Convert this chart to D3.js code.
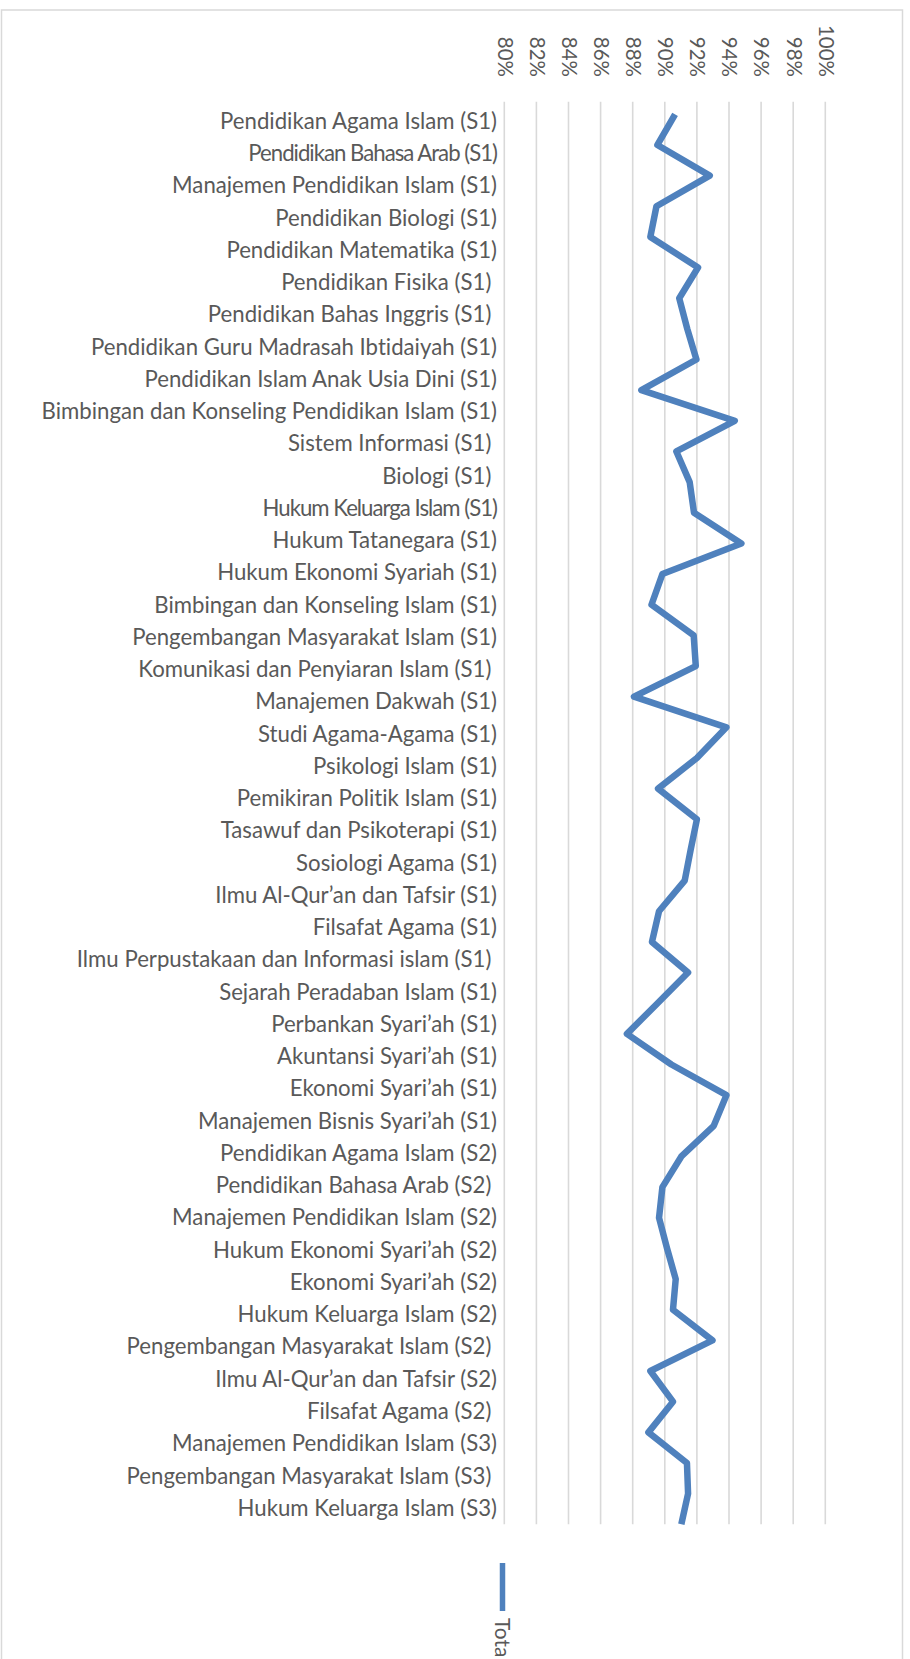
<!DOCTYPE html>
<meta charset="utf-8">
<script src="https://d3js.org/d3.v7.min.js"></script>
<style>
  body { margin: 0; background: #fff; }
  text { font-family: Lato, "Open Sans", sans-serif; fill: #595959; font-variant-ligatures: none; }
</style>
<div id="chart"></div>
<script>

// program names shown along the side (trailing spaces kept as in the source)
var programs = [
  "Pendidikan Agama Islam (S1)",
  "Pendidikan Bahasa Arab (S1)",
  "Manajemen Pendidikan Islam (S1)",
  "Pendidikan Biologi (S1)",
  "Pendidikan Matematika (S1)",
  "Pendidikan Fisika (S1) ",
  "Pendidikan Bahas Inggris (S1) ",
  "Pendidikan Guru Madrasah Ibtidaiyah (S1)",
  "Pendidikan Islam Anak Usia Dini (S1)",
  "Bimbingan dan Konseling Pendidikan Islam (S1)",
  "Sistem Informasi (S1) ",
  "Biologi (S1) ",
  "Hukum Keluarga Islam (S1)",
  "Hukum Tatanegara (S1)",
  "Hukum Ekonomi Syariah (S1)",
  "Bimbingan dan Konseling Islam (S1)",
  "Pengembangan Masyarakat Islam (S1)",
  "Komunikasi dan Penyiaran Islam (S1) ",
  "Manajemen Dakwah (S1)",
  "Studi Agama-Agama (S1)",
  "Psikologi Islam (S1)",
  "Pemikiran Politik Islam (S1)",
  "Tasawuf dan Psikoterapi (S1)",
  "Sosiologi Agama (S1)",
  "Ilmu Al-Qur\u2019an dan Tafsir (S1)",
  "Filsafat Agama (S1)",
  "Ilmu Perpustakaan dan Informasi islam (S1) ",
  "Sejarah Peradaban Islam (S1)",
  "Perbankan Syari\u2019ah (S1)",
  "Akuntansi Syari\u2019ah (S1)",
  "Ekonomi Syari\u2019ah (S1)",
  "Manajemen Bisnis Syari\u2019ah (S1)",
  "Pendidikan Agama Islam (S2)",
  "Pendidikan Bahasa Arab (S2) ",
  "Manajemen Pendidikan Islam (S2)",
  "Hukum Ekonomi Syari\u2019ah (S2)",
  "Ekonomi Syari\u2019ah (S2)",
  "Hukum Keluarga Islam (S2)",
  "Pengembangan Masyarakat Islam (S2) ",
  "Ilmu Al-Qur\u2019an dan Tafsir (S2)",
  "Filsafat Agama (S2) ",
  "Manajemen Pendidikan Islam (S3)",
  "Pengembangan Masyarakat Islam (S3) ",
  "Hukum Keluarga Islam (S3)"
];

// "Total" series (the line has 47 points)
var total = [
  0.9064, 0.8954, 0.9280, 0.8948, 0.8910, 0.9207, 0.9090, 0.9140,
  0.9197, 0.8854, 0.9436, 0.9072, 0.9155, 0.9182, 0.9477, 0.8985,
  0.8917, 0.9180, 0.9193, 0.8808, 0.9384, 0.9200, 0.8958, 0.9200,
  0.9161, 0.9124, 0.8964, 0.8920, 0.9145, 0.8955, 0.8764, 0.9041,
  0.9384, 0.9305, 0.9103, 0.8985, 0.8964, 0.9014, 0.9068, 0.9051,
  0.9297, 0.8910, 0.9051, 0.8898, 0.9138, 0.9145, 0.9103
];

var tickValues = [0.80, 0.82, 0.84, 0.86, 0.88, 0.90, 0.92, 0.94, 0.96, 0.98, 1.00];
var seriesName = "Total";

var width = 910, height = 1659;
var plot = {left: 504.3, right: 825.3, top: 101.7, bottom: 1524.3};

var svg = d3.select("#chart")
  .append("svg")
    .attr("width", width)
    .attr("height", height);

// chart border
svg.append("rect")
  .attr("x", 1.5).attr("y", 10)
  .attr("width", 901).attr("height", 1700)
  .attr("fill", "none")
  .attr("stroke", "#d9d9d9")
  .attr("stroke-width", 1.5);

var x = d3.scaleLinear()
  .domain([0.80, 1.00])
  .range([plot.left, plot.right]);

// labels and line points are spaced differently in the source
var yLabel = d3.scalePoint()
  .domain(programs.map(function(d, i) { return i; }))
  .range([121, 1508]);

var yPoint = d3.scalePoint()
  .domain(total.map(function(d, i) { return i; }))
  .range([114.3, plot.bottom]);

// gridlines
svg.append("g")
  .selectAll("line")
  .data(tickValues)
  .enter()
  .append("line")
    .attr("x1", function(d) { return x(d) })
    .attr("x2", function(d) { return x(d) })
    .attr("y1", plot.top)
    .attr("y2", plot.bottom)
    .attr("stroke", "#d9d9d9")
    .attr("stroke-width", 1.6);

// value axis on top, labels turned a quarter clockwise
var axis = svg.append("g")
  .attr("transform", "translate(0,77)")
  .call(d3.axisTop(x).tickValues(tickValues).tickFormat(d3.format(".0%")).tickSize(0));
axis.select(".domain").remove();
axis.selectAll("text")
  .attr("y", 0)
  .attr("dy", "0.35em")
  .attr("text-anchor", "end")
  .attr("transform", "rotate(90)")
  .style("font-family", "Lato, 'Open Sans', sans-serif")
  .style("font-size", "20.5px")
  .style("fill", "#595959");

// category labels
var condensed = [1, 12];
svg.append("g")
  .selectAll("text")
  .data(programs)
  .enter()
  .append("text")
    .attr("x", 497)
    .attr("y", function(d, i) { return yLabel(i) })
    .attr("dy", "0.35em")
    .attr("text-anchor", "end")
    .style("white-space", "pre")
    .style("font-size", "22.2px")
    .style("letter-spacing", function(d, i) { return condensed.indexOf(i) >= 0 ? "-1px" : null })
    .text(function(d) { return d });

// the line
svg.append("path")
  .datum(total)
  .attr("fill", "none")
  .attr("stroke", "#4f81bd")
  .attr("stroke-width", 6.5)
  .attr("stroke-linejoin", "round")
  .attr("d", d3.line()
    .x(function(d) { return x(d) })
    .y(function(d, i) { return yPoint(i) })
  );

// legend
svg.append("line")
  .attr("x1", 502.5).attr("x2", 502.5)
  .attr("y1", 1563).attr("y2", 1611)
  .attr("stroke", "#4f81bd")
  .attr("stroke-width", 5.5);

svg.append("text")
  .attr("transform", "translate(502.5,1618) rotate(90)")
  .attr("dy", "0.35em")
  .style("font-size", "21px")
  .text(seriesName);

</script>
